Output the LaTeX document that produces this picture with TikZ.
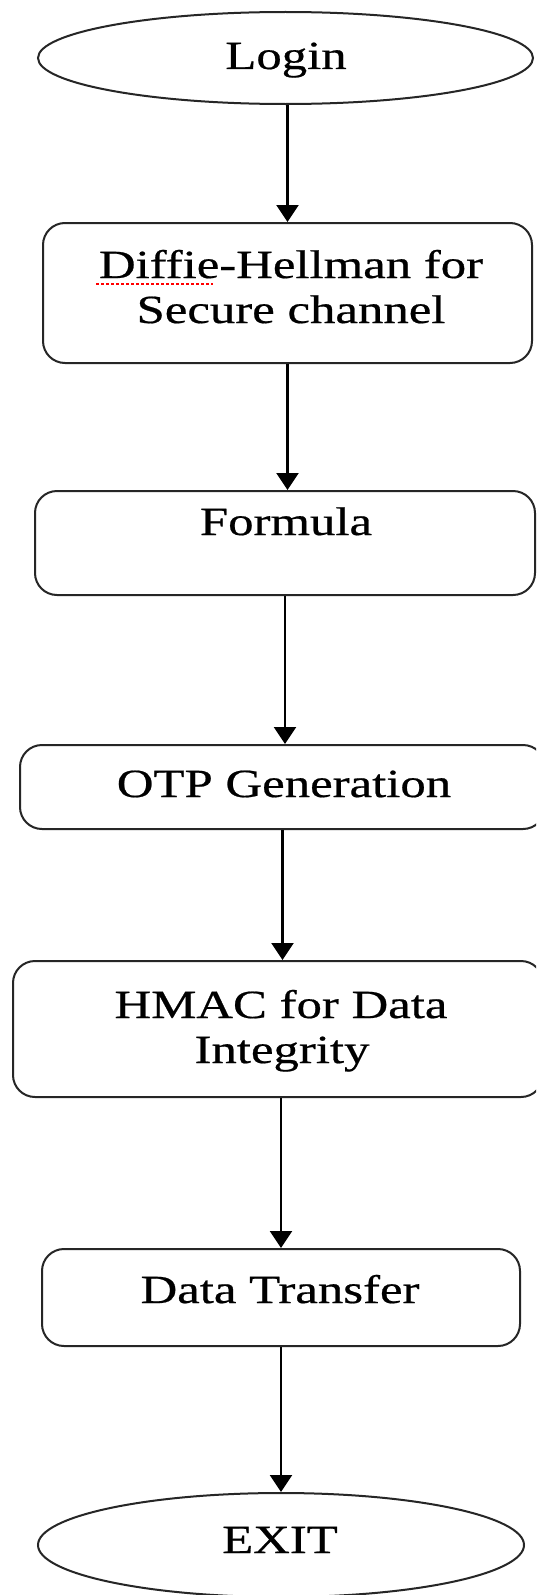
\documentclass[tikz,border=0pt]{standalone}
\usepackage{fontspec}
\setmainfont{Liberation Serif}[FakeBold=0.5]
\usetikzlibrary{arrows.meta,shapes.geometric}
% horizontally widened lettering
\newcommand{\wide}[1]{\scalebox{1.27}[1]{#1}}
\begin{document}
\begin{tikzpicture}[x=1pt,y=-1pt,
  frame/.style={draw=black!85,line width=2pt},
  terminal/.style={frame,ellipse,inner sep=0pt},
  stepbox/.style={frame,rectangle,rounded corners=22pt,inner sep=0pt},
  boxtext/.style={inner sep=0pt,anchor=base,font=\fontsize{40}{45}\selectfont},
  flow/.style={line width=2.3pt,-{Triangle[width=22pt,length=17pt]}}]
\clip (0,0) rectangle (536,1595);
\fill[white] (0,0) rectangle (536,1595);

% shapes of the flow
\node[terminal, minimum width=495pt, minimum height=92pt]  (login)   at (285.5,58)   {};
\node[stepbox,  minimum width=489pt, minimum height=140pt] (dh)      at (287.5,293)  {};
\node[stepbox,  minimum width=500pt, minimum height=104pt] (formula) at (285,543)    {};
\node[stepbox,  minimum width=525pt, minimum height=84pt]  (otp)     at (282.5,787)  {};
\node[stepbox,  minimum width=530pt, minimum height=136pt] (hmac)    at (278,1029)   {};
\node[stepbox,  minimum width=478pt, minimum height=97pt]  (xfer)    at (281,1297.5) {};
\node[terminal, minimum width=486pt, minimum height=104pt] (exit)    at (281,1545)   {};

% lettering
\node[boxtext] (tlogin)   at (286,69)   {\wide{Login}};
\node[boxtext] (tdh1)     at (291,278)  {\wide{Diffie-Hellman for}};
\node[boxtext] (tdh2)     at (291,323)  {\wide{Secure channel}};
\node[boxtext] (tformula) at (286,535)  {\wide{Formula}};
\node[boxtext] (totp)     at (284,797)  {\wide{OTP Generation}};
\node[boxtext] (thmac1)   at (281,1018) {\wide{HMAC for Data}};
\node[boxtext] (thmac2)   at (282,1063) {\wide{Integrity}};
\node[boxtext] (txfer)    at (280,1303) {\wide{Data Transfer}};
\node[boxtext] (texit)    at (280,1553) {\wide{EXIT}};

% spelling mark under "Diffie"
\draw[red, line width=2pt, dash pattern=on 2.5pt off 2.5pt] (96,284) -- (213,284);

% connectors
\draw[flow] (dh.north |- login.south) -- (dh.north);
\draw[flow] (dh.south) -- (formula.north -| dh.south);
\draw[flow] (formula.south) -- (otp.north -| formula.south);
\draw[flow] (otp.south) -- (hmac.north -| otp.south);
\draw[flow] (xfer.north |- hmac.south) -- (xfer.north);
\draw[flow] (xfer.south) -- (exit.north -| xfer.south);
\end{tikzpicture}
\end{document}
